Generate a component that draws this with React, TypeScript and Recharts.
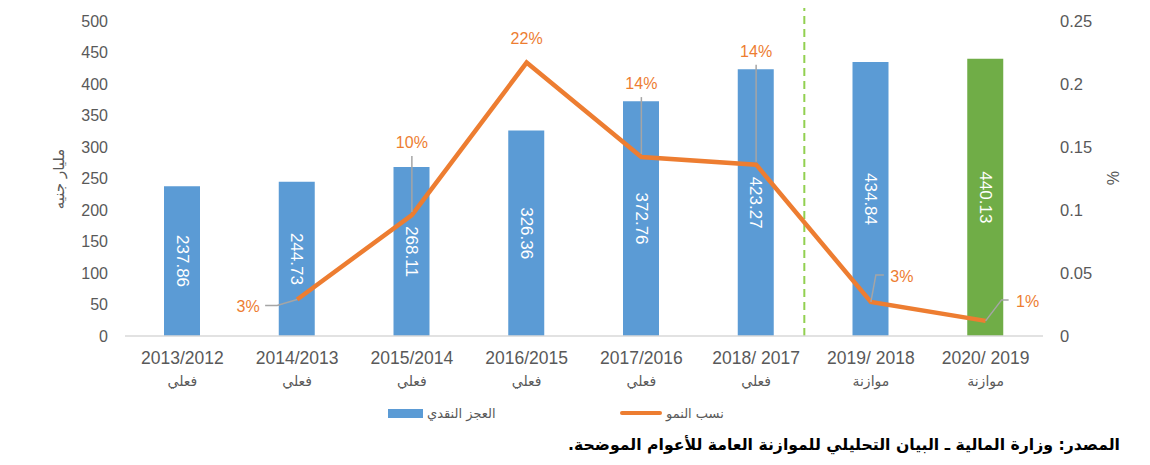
import { ComposedChart, Bar, Line, XAxis, YAxis, Cell, LabelList, ReferenceLine } from 'recharts';

// fiscal years (x axis) and their note (actual / budget)
const years = ['2013/2012', '2014/2013', '2015/2014', '2016/2015', '2017/2016', '2018/ 2017', '2019/ 2018', '2020/ 2019'];
const yearNotes = ['فعلي', 'فعلي', 'فعلي', 'فعلي', 'فعلي', 'فعلي', 'موازنة', 'موازنة'];

// cash deficit, billion EGP
const deficit = [237.86, 244.73, 268.11, 326.36, 372.76, 423.27, 434.84, 440.13];
// growth rate (right axis)
const growth = [null, 0.029, 0.096, 0.217, 0.142, 0.136, 0.027, 0.012];
const growthLabels = [null, '3%', '10%', '22%', '14%', '14%', '3%', '1%'];

const leftTicks = [0, 50, 100, 150, 200, 250, 300, 350, 400, 450, 500];
const rightTicks = [0, 0.05, 0.1, 0.15, 0.2, 0.25];

// where actual figures end and budget figures start (category slot units, 0 = first year)
const budgetBoundary = 5.42;

const BLUE = '#5B9BD5';
const GREEN = '#70AD47';
const ORANGE = '#ED7D31';
const GREY_TEXT = '#595959';
const FONT = '"Liberation Sans", Arial, sans-serif';
const AR_FONT = '"DejaVu Sans", sans-serif';

const series = [
  { name: 'العجز النقدي', color: BLUE, kind: 'bar' },
  { name: 'نسب النمو', color: ORANGE, kind: 'line' },
];

const data = years.map((year, i) => ({
  year,
  slot: i,
  deficit: deficit[i],
  growth: growth[i],
  growthLabel: growthLabels[i],
}));

// data label placement for growth labels: text offset + leader polyline (relative to the point)
const labelPlacement = [
  null,
  { tx: -49, ty: 7, leader: [[0, 0], [-20, 6], [-32, 6]] },
  { tx: 0, ty: -73, leader: [[0, -3], [0, -59]] },
  { tx: 0, ty: -24, leader: null },
  { tx: 0, ty: -74, leader: [[0, -3], [0, -60]] },
  { tx: 0, ty: -113, leader: [[0, -3], [0, -100]] },
  { tx: 31, ty: -25, leader: [[0, 0], [5, -27], [13, -27]] },
  { tx: 42, ty: -19, leader: [[0, 0], [16, -21], [23, -21]] },
];

const GrowthLabel = (props: any) => {
  const { x, y, value, index } = props;
  const p = labelPlacement[index];
  if (value == null || !p || x == null || y == null) return null;
  return (
    <g>
      {p.leader && (
        <polyline
          points={p.leader.map(([dx, dy]) => `${x + dx},${y + dy}`).join(' ')}
          fill="none"
          stroke="#A5A5A5"
          strokeWidth={1.5}
        />
      )}
      <text x={x + p.tx} y={y + p.ty} textAnchor="middle" dominantBaseline="central" fill={ORANGE} fontSize={16} fontFamily={FONT}>
        {value}
      </text>
    </g>
  );
};

const BarValueLabel = (props: any) => {
  const { x, y, width, height, value } = props;
  const cx = x + width / 2;
  const cy = y + height / 2;
  return (
    <text
      x={cx}
      y={cy}
      transform={`rotate(90, ${cx}, ${cy})`}
      textAnchor="middle"
      dominantBaseline="central"
      fill="#FFFFFF"
      fontSize={17}
      fontFamily={FONT}
    >
      {value}
    </text>
  );
};

const YearTick = (props: any) => {
  const { x, y, payload, index } = props;
  return (
    <g>
      <text x={x} y={y + 20} textAnchor="middle" fill={GREY_TEXT} fontSize={17.5} fontFamily={FONT}>
        {payload.value}
      </text>
      <text x={x} y={y + 42} textAnchor="middle" fill={GREY_TEXT} fontSize={14} fontFamily={AR_FONT}>
        {yearNotes[index]}
      </text>
    </g>
  );
};

const App = () => {
  return (
    <div style={{ position: 'relative', width: 1142, height: 449, fontFamily: FONT }}>
      <ComposedChart width={1142} height={400} data={data} margin={{ top: 13, right: 20, bottom: 12, left: 30 }}>
        <XAxis
          dataKey="year"
          xAxisId="c"
          axisLine={{ stroke: '#D9D9D9', strokeWidth: 1.5 }}
          tickLine={false}
          tick={<YearTick />}
          interval={0}
          height={60}
        />
        <XAxis xAxisId="n" dataKey="slot" type="number" domain={[-0.5, 7.5]} allowDataOverflow hide />
        <YAxis
          yAxisId="l"
          domain={[0, 500]}
          ticks={leftTicks}
          width={87}
          axisLine={false}
          tickLine={false}
          tickMargin={11}
          tick={{ fill: GREY_TEXT, fontSize: 16, fontFamily: FONT }}
          label={{
            content: (p: any) => {
              const vb = p.viewBox;
              const cx = vb.x + 21;
              const cy = 171;
              return (
                <text x={cx} y={cy} transform={`rotate(-90, ${cx}, ${cy})`} textAnchor="middle" dominantBaseline="central" fill={GREY_TEXT} fontSize={15} fontFamily={AR_FONT}>
                  مليار جنيه
                </text>
              );
            },
          }}
        />
        <YAxis
          yAxisId="r"
          orientation="right"
          domain={[0, 0.25]}
          ticks={rightTicks}
          width={87}
          axisLine={false}
          tickLine={false}
          tickMargin={11}
          tick={{ fill: GREY_TEXT, fontSize: 16.5, fontFamily: FONT }}
          label={{
            content: (p: any) => {
              const vb = p.viewBox;
              const cx = vb.x + 69;
              const cy = 170;
              return (
                <text x={cx} y={cy} transform={`rotate(90, ${cx}, ${cy})`} textAnchor="middle" dominantBaseline="central" fill={GREY_TEXT} fontSize={16} fontFamily={FONT}>
                  %
                </text>
              );
            },
          }}
        />
        <ReferenceLine
          xAxisId="n"
          yAxisId="l"
          segment={[{ x: budgetBoundary, y: 0 }, { x: budgetBoundary, y: 527 }]}
          ifOverflow="visible"
          stroke="#92D050"
          strokeWidth={2}
          strokeDasharray="8 5"
        />
        <Bar dataKey="deficit" xAxisId="c" yAxisId="l" barSize={36} fill={BLUE} isAnimationActive={false}>
          {data.map((d, i) => (
            <Cell key={d.year} fill={i === data.length - 1 ? GREEN : BLUE} />
          ))}
          <LabelList dataKey="deficit" content={<BarValueLabel />} />
        </Bar>
        <Line
          dataKey="growth"
          xAxisId="c"
          yAxisId="r"
          stroke={ORANGE}
          strokeWidth={4.5}
          dot={false}
          activeDot={false}
          isAnimationActive={false}
        >
          <LabelList dataKey="growthLabel" content={<GrowthLabel />} />
        </Line>
      </ComposedChart>

      {/* legend */}
      <div style={{ position: 'absolute', top: 396, left: 0, width: 1142, height: 18 }}>
        {series.map((s, i) => (
          <div
            key={s.name}
            style={{ position: 'absolute', left: i === 0 ? 380 : 612, top: 0, display: 'flex', alignItems: 'center', height: 18 }}
          >
            {s.kind === 'bar' ? (
              <span style={{ display: 'inline-block', width: 35, height: 9, background: s.color }} />
            ) : (
              <span style={{ display: 'inline-block', width: 42, height: 4, borderRadius: 2, background: s.color }} />
            )}
            <span style={{ marginLeft: 4, fontSize: 13, color: GREY_TEXT, fontFamily: AR_FONT }}>{s.name}</span>
          </div>
        ))}
      </div>

      {/* source */}
      <div
        dir="rtl"
        style={{ position: 'absolute', top: 427, right: 30, fontSize: 15.7, fontWeight: 'bold', color: '#000', fontFamily: AR_FONT, whiteSpace: 'nowrap' }}
      >
        المصدر: وزارة المالية ـ البيان التحليلي للموازنة العامة للأعوام الموضحة.
      </div>
    </div>
  );
};

export default App;
